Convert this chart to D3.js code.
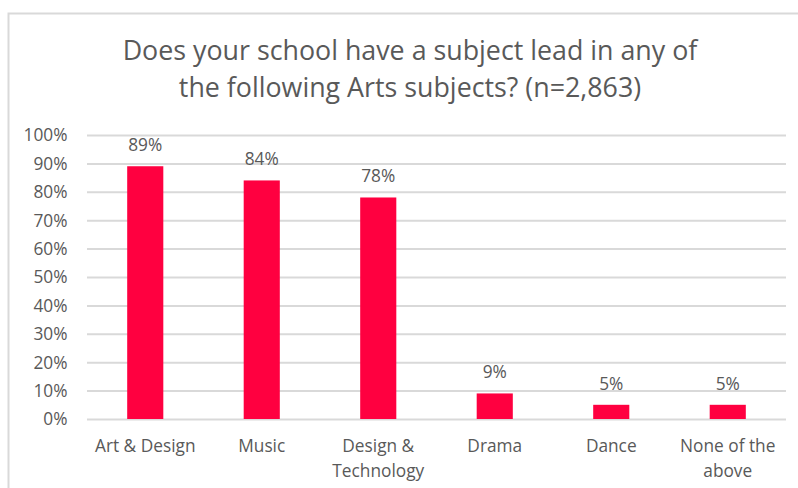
<!DOCTYPE html>
<html>
<head>
<meta charset="utf-8">
<script src="https://cdn.jsdelivr.net/npm/d3@7"></script>
<style>
  html, body { margin: 0; padding: 0; background: #fff; }
  svg { display: block; font-family: "Open Sans", Lato, sans-serif; }
</style>
</head>
<body>
<svg id="chart" width="798" height="488"></svg>
<script>
// Survey results: share of schools with a subject lead per Arts subject
const categories = ["Art & Design", "Music", "Design & Technology", "Drama", "Dance", "None of the above"];
const categoryLines = [["Art & Design"], ["Music"], ["Design &", "Technology"], ["Drama"], ["Dance"], ["None of the", "above"]];
const values = [89, 84, 78, 9, 5, 5];
const yTicks = [0, 10, 20, 30, 40, 50, 60, 70, 80, 90, 100];
const titleLines = ["Does your school have a subject lead in any of", "the following Arts subjects? (n=2,863)"];

const svg = d3.select("#chart");
const textColor = "#595959";
const barColor = "#FF0040";
const gridColor = "#d9d9d9";
const labelSize = "17.3px";

// chart frame
svg.append("rect")
  .attr("x", 8.5).attr("y", 13.5)
  .attr("width", 820).attr("height", 500)
  .attr("fill", "none").attr("stroke", gridColor).attr("stroke-width", 2);

const plot = { left: 87, right: 786, top: 135, bottom: 419 };

const x = d3.scaleBand()
  .domain(categories)
  .range([plot.left, plot.right])
  .paddingInner(0.69).paddingOuter(0.345);

const y = d3.scaleLinear().domain([0, 100]).range([plot.bottom, plot.top]);

// title
svg.append("text")
  .attr("x", 409).attr("y", 60)
  .attr("text-anchor", "middle")
  .attr("fill", textColor)
  .style("font-size", "26.8px")
  .selectAll("tspan").data(titleLines).join("tspan")
  .attr("x", 410).attr("dy", (d, i) => i === 0 ? 0 : 37)
  .text(d => d);

// gridlines + y labels
const yAxis = d3.axisLeft(y).tickValues(yTicks).tickFormat(d => d + "%")
  .tickSize(-(plot.right - plot.left)).tickPadding(19);
const gy = svg.append("g").attr("transform", `translate(${plot.left},0)`).call(yAxis);
gy.select(".domain").remove();
gy.selectAll(".tick line").attr("stroke", gridColor).attr("stroke-width", 2);
gy.selectAll(".tick text").attr("fill", textColor).style("font-size", labelSize)
  .style("font-family", "'Open Sans', sans-serif")
  .attr("x", -19.5).attr("dy", "0.34em");

// bars
svg.append("g").selectAll("rect").data(values).join("rect")
  .attr("x", (d, i) => x(categories[i]))
  .attr("width", x.bandwidth())
  .attr("y", d => y(d))
  .attr("height", d => y(0) - y(d))
  .attr("fill", barColor);

// value labels
svg.append("g").selectAll("text").data(values).join("text")
  .attr("x", (d, i) => x(categories[i]) + x.bandwidth() / 2)
  .attr("y", d => y(d) - 15)
  .attr("text-anchor", "middle")
  .attr("fill", textColor)
  .style("font-size", labelSize)
  .text(d => d + "%");

// category labels
const cat = svg.append("g").selectAll("text").data(categories).join("text")
  .attr("x", d => x(d) + x.bandwidth() / 2)
  .attr("y", 451.5)
  .attr("text-anchor", "middle")
  .attr("fill", textColor)
  .style("font-size", labelSize);
cat.selectAll("tspan").data((d, i) => categoryLines[i]).join("tspan")
  .attr("x", function () { return d3.select(this.parentNode).attr("x"); })
  .attr("dy", (d, i) => i === 0 ? 0 : 25)
  .text(d => d);
</script>
</body>
</html>
